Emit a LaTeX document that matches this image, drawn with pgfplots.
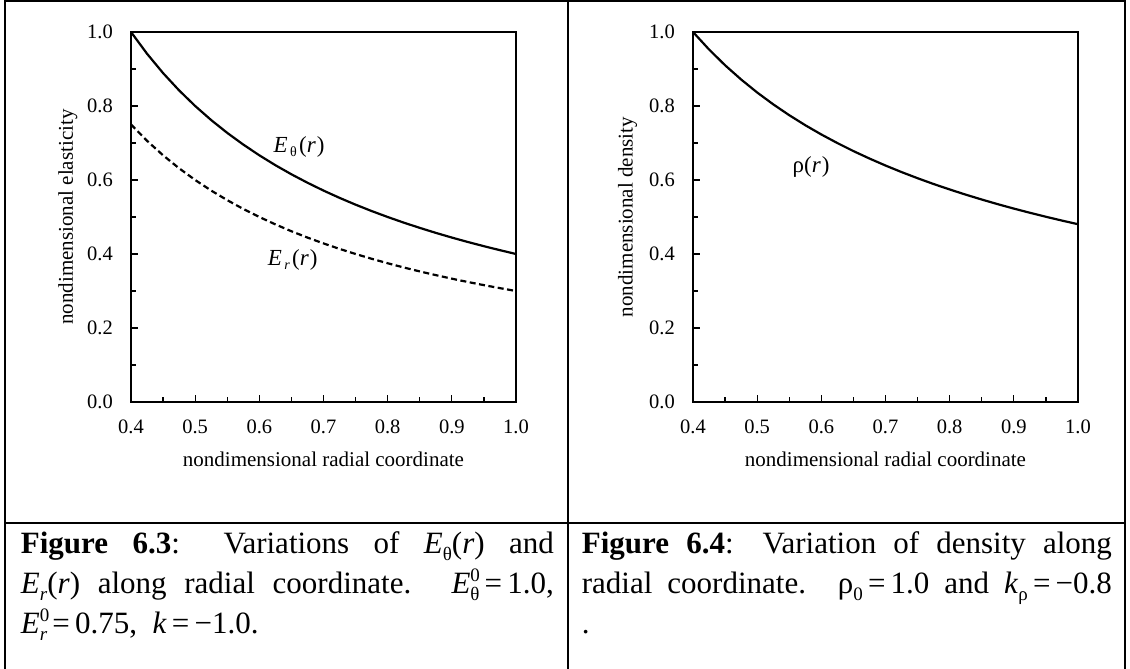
\documentclass[border=0pt]{standalone}
\usepackage{fontspec}
\setmainfont{Liberation Serif}
\usepackage{pgfplots}
\pgfplotsset{compat=1.18}
\newcommand{\csub}[1]{\raisebox{-6.5pt}{\fontsize{19}{19}\selectfont #1}}
\newcommand{\csup}[1]{\raisebox{12.5pt}{\fontsize{19}{19}\selectfont #1}}
\newcommand{\psub}[1]{\raisebox{-4.5pt}{\fontsize{14}{14}\selectfont\,#1\,}}
\pgfplotsset{
  myax/.style={
    width=385pt, height=370pt, scale only axis,
    xmin=0.4, xmax=1.0, ymin=0, ymax=1,
    xtick={0.4,0.5,0.6,0.7,0.8,0.9,1.0},
    ytick={0,0.2,0.4,0.6,0.8,1.0},
    minor x tick num=1, minor y tick num=1,
    tick pos=left, tick align=inside,
    major tick length=7pt, minor tick length=5pt,
    tick style={black, line width=1.3pt},
    minor tick style={black, line width=1.3pt},
    axis line style={line width=1.8pt},
    clip=false,
    tick label style={font=\fontsize{20.5}{24}\selectfont},
    xticklabel style={anchor=base, yshift=-32pt},
    yticklabel style={anchor=east, inner sep=0pt, xshift=-18pt},
    label style={font=\fontsize{21}{24}\selectfont},
    xlabel style={at={(axis description cs:0.5,-0.173)}, anchor=base},
    /pgf/number format/fixed,
    /pgf/number format/fixed zerofill,
    /pgf/number format/precision=1,
    /pgf/number format/assume math mode=true,
  }
}
\begin{document}
\begin{tikzpicture}[x=1pt,y=1pt]
\useasboundingbox (0,0) rectangle (1130,669);
% table frame
\draw[line width=2.2pt] (5,0) -- (5,667.6) -- (1125,667.6) -- (1125,0);
\draw[line width=2.2pt] (567.7,0) -- (567.7,667.6);
\draw[line width=2.2pt] (5,146.3) -- (1125,146.3);

% left chart
\begin{axis}[myax, at={(131pt,267pt)}, anchor=south west,
  xlabel={nondimensional radial coordinate},
  ylabel={nondimensional elasticity},
  ylabel style={at={(axis description cs:-0.164,0.5)}, anchor=center}]
\addplot[black, line width=2.2pt] coordinates {
(0.400,1.0000) (0.425,0.9412) (0.450,0.8889) (0.475,0.8421) (0.500,0.8000)
(0.525,0.7619) (0.550,0.7273) (0.575,0.6957) (0.600,0.6667) (0.625,0.6400)
(0.650,0.6154) (0.675,0.5926) (0.700,0.5714) (0.725,0.5517) (0.750,0.5333)
(0.775,0.5161) (0.800,0.5000) (0.825,0.4848) (0.850,0.4706) (0.875,0.4571)
(0.900,0.4444) (0.925,0.4324) (0.950,0.4211) (0.975,0.4103) (1.000,0.4000)};
\addplot[black, line width=2.2pt, dash pattern=on 6pt off 3.5pt] coordinates {
(0.400,0.7500) (0.425,0.7059) (0.450,0.6667) (0.475,0.6316) (0.500,0.6000)
(0.525,0.5714) (0.550,0.5455) (0.575,0.5217) (0.600,0.5000) (0.625,0.4800)
(0.650,0.4615) (0.675,0.4444) (0.700,0.4286) (0.725,0.4138) (0.750,0.4000)
(0.775,0.3871) (0.800,0.3750) (0.825,0.3636) (0.850,0.3529) (0.875,0.3429)
(0.900,0.3333) (0.925,0.3243) (0.950,0.3158) (0.975,0.3077) (1.000,0.3000)};
\node[font=\fontsize{23}{24}\selectfont] at (axis cs:0.662,0.69) {\textit{E}\psub{θ}(\textit{r}\kern1pt)};
\node[font=\fontsize{23}{24}\selectfont] at (axis cs:0.652,0.384) {\textit{E}\psub{\textit{r}}(\textit{r}\kern1pt)};
\end{axis}

% right chart
\begin{axis}[myax, at={(693pt,267pt)}, anchor=south west,
  xlabel={nondimensional radial coordinate},
  ylabel={nondimensional density},
  ylabel style={at={(axis description cs:-0.17,0.5)}, anchor=center}]
\addplot[black, line width=2.2pt] coordinates {
(0.400,1.0000) (0.425,0.9527) (0.450,0.9101) (0.475,0.8716) (0.500,0.8365)
(0.525,0.8045) (0.550,0.7751) (0.575,0.7480) (0.600,0.7230) (0.625,0.6998)
(0.650,0.6781) (0.675,0.6580) (0.700,0.6391) (0.725,0.6214) (0.750,0.6048)
(0.775,0.5891) (0.800,0.5744) (0.825,0.5604) (0.850,0.5472) (0.875,0.5346)
(0.900,0.5227) (0.925,0.5114) (0.950,0.5006) (0.975,0.4903) (1.000,0.4805)};
\node[font=\fontsize{23}{24}\selectfont] at (axis cs:0.584,0.636) {ρ(\textit{r}\kern1pt)};
\end{axis}

% captions
\begin{scope}[every node/.style={anchor=base west, inner sep=0pt, font=\fontsize{31}{40}\selectfont}]
\node at (20.7,115) {\makebox[533pt][s]{\textbf{Figure 6.3}: Variations of \textit{E}\csub{θ}(\textit{r}) and}};
\node at (20.7,75) {\makebox[533pt][s]{\textit{E}\csub{\textit{r}}(\textit{r}) along radial coordinate. \textit{E}\rlap{\csup{0}}\csub{θ}\,=\,1.0,}};
\node at (20.7,35) {\textit{E}\rlap{\csup{0}}\csub{\textit{r}}\,=\,0.75,\enspace \textit{k}\,=\,−1.0.};
\node at (581.7,115) {\makebox[530pt][s]{\textbf{Figure 6.4}: Variation of density along}};
\node at (581.7,75) {\makebox[530pt][s]{radial coordinate. ρ\csub{0}\,=\,1.0 and \textit{k}\csub{ρ}\,=\,−0.8}};
\node at (581.7,35) {.};
\end{scope}
\end{tikzpicture}
\end{document}
